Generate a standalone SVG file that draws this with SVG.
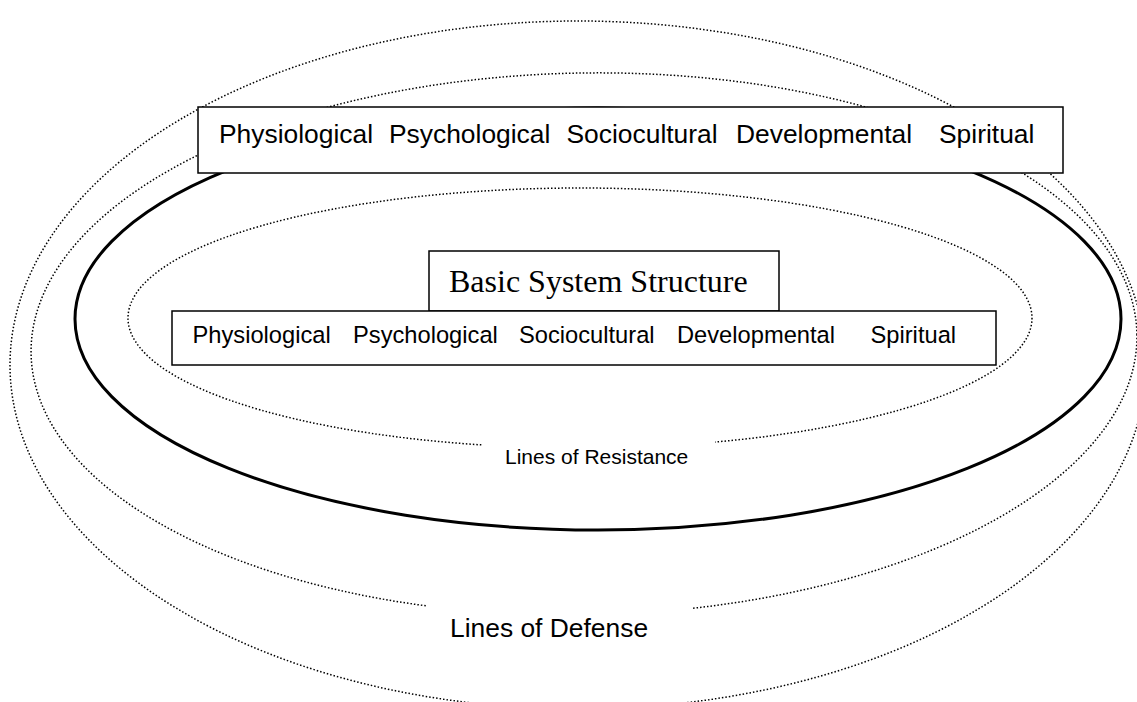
<svg xmlns="http://www.w3.org/2000/svg" width="1137" height="702" viewBox="0 0 1137 702">
  <style>
    .dot { fill: none; stroke: #000; stroke-width: 1.5; stroke-dasharray: 1.5 2; }
    .solid { fill: none; stroke: #000; stroke-width: 3; }
    .box { fill: #fff; stroke: #000; stroke-width: 1.5; }
    .sans { font-family: "Liberation Sans", Arial, sans-serif; fill: #000; }
    .serif { font-family: "Liberation Serif", "Times New Roman", serif; fill: #000; }
    .mask { fill: #fff; stroke: none; }
  </style>
  <rect x="0" y="0" width="1137" height="702" fill="#fff"/>
  <g id="rings">
    <ellipse id="outer-defense" class="dot" cx="578" cy="365" rx="568" ry="344"/>
    <ellipse id="normal-defense" class="dot" cx="584" cy="344" rx="553" ry="271" transform="rotate(-1 584 344)"/>
    <ellipse id="flexible-line" class="solid" cx="598" cy="319" rx="523" ry="211"/>
    <ellipse id="resistance" class="dot" cx="580" cy="318" rx="452" ry="130"/>
  </g>
  <g id="label-resistance">
    <rect class="mask" x="482" y="438" width="233" height="40"/>
    <text class="sans" x="505" y="464" font-size="21">Lines of Resistance</text>
  </g>
  <g id="label-defense">
    <rect class="mask" x="427" y="594" width="266" height="62"/>
    <text class="sans" x="450" y="637" font-size="26.4">Lines of Defense</text>
  </g>
  <g id="top-box">
    <rect class="box" x="198" y="107" width="865" height="66"/>
    <text class="sans" font-size="26.4" y="143">
      <tspan x="219">Physiological</tspan>
      <tspan x="389">Psychological</tspan>
      <tspan x="566.5">Sociocultural</tspan>
      <tspan x="736">Developmental</tspan>
      <tspan x="939">Spiritual</tspan>
    </text>
  </g>
  <g id="basic-structure">
    <rect class="box" x="429" y="251" width="350" height="60"/>
    <text class="serif" x="449" y="292" font-size="32">Basic System Structure</text>
  </g>
  <g id="inner-box">
    <rect class="box" x="172" y="311" width="824" height="54"/>
    <text class="sans" font-size="23.7" y="343">
      <tspan x="192.5">Physiological</tspan>
      <tspan x="353">Psychological</tspan>
      <tspan x="519">Sociocultural</tspan>
      <tspan x="677">Developmental</tspan>
      <tspan x="870.5">Spiritual</tspan>
    </text>
  </g>
</svg>
